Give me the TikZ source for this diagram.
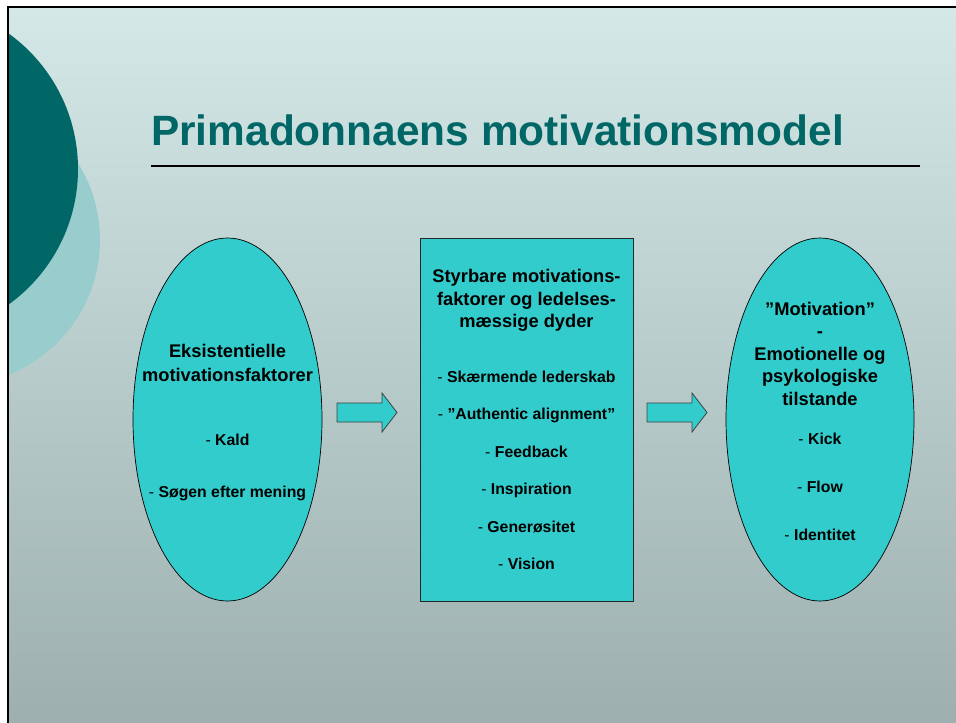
\documentclass[tikz,border=0pt]{standalone}
\usepackage{fontspec}
\setmainfont{Liberation Sans}
\usepackage{tikz}
\usetikzlibrary{shapes.geometric}
\usetikzlibrary{positioning}

\definecolor{slidetop}{RGB}{212,232,232}
\definecolor{slidebot}{RGB}{157,175,175}
\definecolor{tealdark}{RGB}{0,102,102}
\definecolor{teallight}{RGB}{153,204,204}
\definecolor{cyanfill}{RGB}{51,204,204}

\tikzset{
	bubble/.style={ellipse,draw=black,line width=.7pt,fill=cyanfill,inner sep=0pt,minimum height=363pt},
	panel/.style={rectangle,draw=black!85,line width=.9pt,fill=cyanfill,inner sep=0pt,minimum width=213pt,minimum height=363pt},
	blockarrow/.style={draw=black!75,line width=.8pt,fill=cyanfill,line join=miter},
	head/.style={anchor=base,inner sep=0pt,font=\fontsize{18.3}{22.5}\selectfont\bfseries},
	item/.style={anchor=base,inner sep=0pt,font=\fontsize{15.8}{19}\selectfont\bfseries}
}

\begin{document}
\begin{tikzpicture}
	[x=1pt,y=-1pt]
	\useasboundingbox (0,0) rectangle (956,723);
	\fill[white] (0,0) rectangle (956,723);
	\shade[top color=slidetop,bottom color=slidebot] (8,7) rectangle (956,723);
	% circles at the left edge
	\begin{scope}
		\clip (8,7) rectangle (956,723);
		\fill[teallight] (-45,240) circle[radius=145];
		\fill[tealdark] (-89,169) circle[radius=167];
	\end{scope}
	\draw[line width=1.6pt] (8,723) -- (8,7) -- (956,7);

	\node[anchor=base west,inner sep=0pt,text=tealdark,font=\fontsize{42.4}{50}\selectfont\bfseries] (title) at (151,145) {Primadonnaens motivationsmodel};
	\draw[line width=2pt] (151,166) -- (920,166);

	\node[bubble,minimum width=189pt] (lft) at (227.5,419.5) {};
	\node[panel] (mid) at (526.5,419.5) {};
	\node[bubble,minimum width=188pt] (rgt) at (820,419.5) {};

	\foreach \ax in {337,647}
	\draw[blockarrow] (\ax,403) -- ++(45,0) -- ++(0,-10) -- ++(15,19.5) -- ++(-15,19.5) -- ++(0,-10) -- ++(-45,0) -- cycle;

	% texts
	\foreach \y/\txt [count=\i] in {357.5/Eksistentielle, 381/motivationsfaktorer}
	\node[head] (lh\i) at (lft |- 0,\y) {\txt};
	\foreach \y/\txt [count=\i] in {445/Kald, 497/Søgen efter mening}
	\node[item] (li\i) at (lft |- 0,\y) {{\mdseries -} \txt};

	\foreach \y/\txt [count=\i] in {282/Styrbare motivations-, 305/faktorer og ledelses-, 327.5/mæssige dyder}
	\node[head] (mh\i) at (mid |- 0,\y) {\txt};
	\foreach \y/\txt [count=\i] in {382/Skærmende lederskab, 419.5/”Authentic alignment”, 457/Feedback, 494.5/Inspiration, 532/Generøsitet, 569.5/Vision}
	\node[item] (mi\i) at (mid |- 0,\y) {{\mdseries -} \txt};

	\foreach \y/\txt [count=\i] in {315/”Motivation”, 337.5/-, 360/Emotionelle og, 382.5/psykologiske, 405/tilstande}
	\node[head] (rh\i) at (rgt |- 0,\y) {\txt};
	\foreach \y/\txt [count=\i] in {444/Kick, 492/Flow, 540.5/Identitet}
	\node[item] (ri\i) at (rgt |- 0,\y) {{\mdseries -} \txt};
\end{tikzpicture}
\end{document}
